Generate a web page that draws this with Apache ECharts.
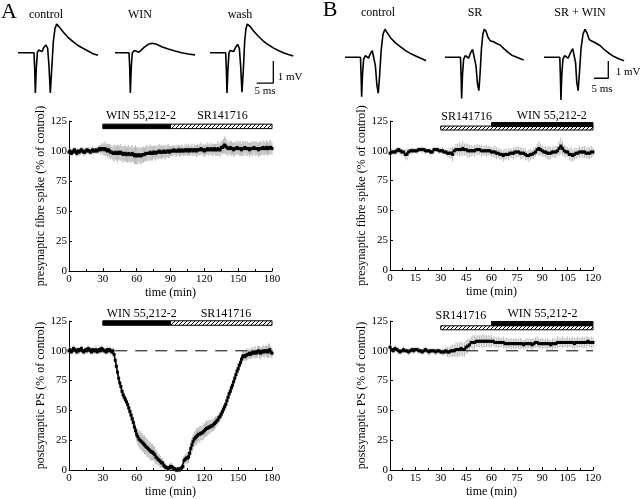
<!DOCTYPE html>
<html><head><meta charset="utf-8">
<script src="https://cdn.jsdelivr.net/npm/echarts@6/dist/echarts.min.js"></script>
<style>html,body{margin:0;padding:0;background:#fff}#c{width:640px;height:499px}</style>
</head><body><div id="c"></div>
<script>
// ---------- time-course data (1 sample / min) ----------
const preA = [
99,100,98,99,100,101,99,98,100,99,
100,101,100,99,99,100,101,100,100,99,
100,101,100,100,101,100,101,102,101,102,
102,101,102,101,100,101,100,99,99,98,
98,99,98,98,99,98,99,98,97,98,
98,97,97,98,97,97,98,97,96,97,
96,96,97,96,96,97,97,97,98,98,
98,98,99,98,98,99,99,98,99,99,
100,99,99,99,100,99,99,100,100,99,
100,100,100,101,100,100,100,101,100,100,
101,100,100,101,101,100,101,100,101,101,
100,101,101,100,101,101,101,102,101,101,
100,101,101,102,101,101,102,101,101,102,
101,101,102,101,101,103,103,104,105,104,
103,102,102,103,102,102,101,102,102,103,
102,102,102,101,102,102,103,102,102,102,
101,102,102,102,103,102,102,102,101,102,
102,102,103,102,102,103,102,102,103,103,102];
const errPreA = [
3,3,2,3,3,2,3,3,2,3,
3,3,2,3,3,3,2,3,3,2,
3,3,3,2,3,3,3,3,4,4,
5,5,6,5,6,5,6,6,5,6,
7,6,6,7,6,6,7,6,7,6,
7,6,7,7,6,7,7,6,7,8,
7,7,6,7,7,6,7,6,6,7,
6,6,7,6,6,5,6,6,5,6,
6,5,6,5,5,6,5,5,6,5,
4,4,5,4,4,5,4,4,5,4,
5,4,4,5,4,4,5,4,4,5,
4,5,4,5,5,4,5,5,4,5,
5,5,4,5,5,4,5,5,5,4,
5,5,6,5,6,5,6,6,7,7,
6,6,5,6,6,5,6,6,5,6,
5,6,6,5,6,6,5,6,6,5,
6,5,6,6,5,6,6,5,6,6,
6,5,6,6,5,6,6,5,6,6,5];
const postA = [
100,101,99,100,102,101,100,99,101,100,
101,102,100,99,100,101,100,102,101,100,
99,101,100,100,101,99,100,101,100,102,
101,100,100,99,101,100,101,100,99,100,
97,92,87,82,77,73,70,66,63,61,
59,57,55,52,49,46,43,40,36,33,
30,28,26,25,24,23,22,21,20,19,
18,17,16,15,15,14,13,11,10,9,
8,7,6,6,4,3,2,2,1,2,
3,3,2,1,1,0,0,1,0,1,
2,3,8,9,10,10,11,14,18,21,
24,26,27,28,29,30,30,31,31,32,
33,34,35,35,36,36,37,37,38,39,
40,41,42,44,45,47,49,51,53,55,
58,61,64,66,69,71,74,77,80,83,
85,88,90,93,95,96,95,96,97,97,
98,97,98,99,98,99,98,99,100,99,
98,99,100,99,100,100,99,100,101,99,98];
const errPostA = [
2,3,2,2,3,2,3,2,2,3,
2,3,2,2,3,2,3,3,2,3,
2,2,3,2,3,2,2,3,2,3,
2,2,3,2,3,2,2,3,2,3,
2,2,3,3,3,3,3,3,4,4,
3,4,4,4,4,5,5,5,5,6,
6,7,7,8,7,8,7,8,7,8,
7,7,8,7,7,6,7,6,6,5,
5,5,4,4,3,3,3,2,2,3,
3,3,2,2,2,2,2,2,2,2,
2,3,4,4,4,5,5,5,6,6,
6,6,6,7,6,6,7,6,6,7,
6,6,7,6,6,6,5,5,5,5,
5,4,4,4,4,4,4,4,4,4,
4,4,4,4,4,4,4,3,3,4,
4,4,4,4,5,4,4,4,5,4,
4,4,5,4,4,5,4,5,4,5,
5,4,5,5,4,5,5,6,5,5,4];
const preB = [
98,99,99,99,100,101,100,99,99,97,
97,99,100,100,100,100,100,101,101,101,
101,100,100,100,99,99,101,101,101,100,
100,100,99,99,98,98,98,97,100,101,
101,101,101,102,101,101,100,100,100,100,
100,101,101,101,100,100,100,100,100,100,
99,99,99,98,98,97,97,96,97,97,
97,98,98,98,99,99,99,98,98,98,
97,96,96,97,97,98,99,101,102,101,
100,99,99,98,98,98,99,99,99,100,
102,104,102,100,99,99,97,97,96,97,
98,98,99,99,99,99,98,98,98,99,99];
const errPreB = [
2,3,2,3,3,2,3,3,2,4,
5,3,2,3,2,2,3,2,2,3,
2,3,2,2,3,2,3,2,2,3,
2,3,2,3,3,4,5,6,4,5,
5,6,5,6,5,5,6,5,5,4,
5,4,5,4,5,4,4,5,4,4,
4,4,5,5,4,5,4,5,5,4,
5,4,4,5,4,5,4,5,5,4,
5,4,5,5,4,5,4,5,6,5,
5,4,5,5,6,5,4,5,5,4,
6,7,6,5,5,4,5,6,5,5,
5,4,5,4,5,5,4,5,5,5,4];
const postB = [
103,101,100,102,101,100,99,100,101,100,
100,99,100,101,100,101,101,100,100,99,
100,101,100,99,100,100,100,99,100,100,
99,99,99,100,99,99,100,100,100,101,
101,101,102,101,101,103,104,105,107,107,
107,108,108,108,108,108,108,108,108,108,
108,108,107,107,107,107,107,107,106,106,
106,106,106,106,106,106,106,106,106,105,
106,106,106,106,105,106,107,107,106,106,
106,106,106,106,106,105,106,106,106,107,
107,107,107,107,107,107,107,107,107,106,
107,107,107,107,107,107,107,108,107,107,107];
const errPostB = [
3,2,2,3,2,3,2,2,3,2,
2,3,2,2,3,2,2,3,2,2,
3,2,2,3,2,2,2,3,2,2,
2,3,3,3,4,4,5,5,5,6,
6,6,6,6,6,6,6,5,5,6,
6,5,5,5,5,6,5,5,5,5,
5,4,5,4,5,4,4,5,4,5,
4,4,5,4,5,4,4,5,4,4,
4,5,4,4,5,4,4,5,4,4,
5,4,4,5,4,4,5,4,4,5,
4,4,5,4,4,5,4,4,5,5,
4,5,4,4,5,4,5,4,4,5,4];

// drug application periods (min)
const winA = [30, 90], srA = [90, 180];
const srB = [30, 120], winB = [60, 120];
// control reference lines (min, %)
const refA = [[41, 100], [180, 100]];
const refB = [[45, 100], [120, 100]];
// axis ticks
const ticksYA = [0, 25, 50, 75, 100, 125];
const ticksXA = [0, 30, 60, 90, 120, 150, 180];
const ticksXB = [0, 15, 30, 45, 60, 75, 90, 105, 120];

// ---------- example field potentials [ms, mV] ----------
const trA_control = [[0,0],[4.8,0],[5.0,-0.7],[5.2,-1.83],[5.5,-0.7],[5.8,0],[6.2,0.12],[6.7,0.15],[7.2,0.05],[7.8,0.25],[8.4,0.35],[8.9,0.2],[9.3,-0.6],[9.7,-1.83],[10.1,-0.8],[10.6,0.5],[11.1,1.1],[11.6,1.3],[12.5,1.15],[13.5,0.95],[15,0.7],[16.5,0.5],[18,0.33],[19.5,0.2],[21,0.08],[22.5,-0.05],[24,-0.12]];
const trA_win = [[0,0],[4.2,0],[4.4,-0.6],[4.6,-1.83],[4.9,-0.6],[5.2,0],[5.8,0.1],[6.4,0.13],[7.2,0.02],[7.8,0.05],[8.8,0.25],[10,0.38],[11.1,0.43],[12.5,0.38],[14,0.27],[16,0.17],[18,0.08],[20,0.0],[22,-0.06],[24,-0.1]];
const trA_wash = [[0,0],[4.7,0],[4.9,-0.7],[5.1,-1.83],[5.4,-0.7],[5.7,0],[6.1,0.1],[6.6,0.14],[7.1,0.05],[7.7,0.25],[8.3,0.38],[8.8,0.2],[9.2,-0.6],[9.6,-1.8],[10,-0.8],[10.4,0.5],[10.8,1.1],[11.2,1.3],[12,1.2],[13,1.0],[14.5,0.75],[16,0.53],[17.5,0.36],[19,0.22],[20.5,0.1],[22,0.0],[23.5,-0.08],[25,-0.15]];
const trB_control = [[0,0],[5.4,0],[5.6,-1],[5.8,-2.28],[6.1,-1],[6.5,-0.1],[7.1,0.1],[7.6,0.13],[8.2,-0.05],[8.8,0.2],[9.5,0.38],[10.1,0.3],[10.6,-0.5],[11.1,-1.6],[11.6,-2.08],[12.0,-1.2],[12.6,0.4],[13.2,1.3],[13.9,1.62],[14.8,1.4],[16,1.1],[17.5,0.85],[19,0.65],[21,0.4],[23,0.2],[25,0.05],[27,-0.1],[28.2,-0.2]];
const trB_sr = [[0,0],[5.4,0],[5.6,-1],[5.8,-2.38],[6.1,-1],[6.5,-0.1],[7.1,0.1],[7.6,0.13],[8.2,-0.05],[8.9,0.25],[9.6,0.46],[10.2,0.35],[10.8,-0.5],[11.3,-1.5],[11.8,-1.93],[12.2,-1.0],[12.7,0.5],[13.2,1.35],[13.7,1.62],[14.3,1.5],[15,1.15],[15.8,0.95],[16.9,0.9],[18,0.8],[19.2,0.71],[20.5,0.5],[22,0.28],[23.5,0.1],[25,0],[27.4,-0.16]];
const trB_srwin = [[0,0],[5.5,0],[5.7,-1],[5.9,-2.47],[6.2,-1],[6.6,-0.1],[7.2,0.1],[7.8,0.14],[8.4,-0.05],[9.2,0.25],[10,0.5],[10.5,0.54],[11,-0.3],[11.4,-1.4],[11.9,-1.93],[12.3,-1.0],[12.9,0.5],[13.6,1.35],[14.3,1.62],[15,1.4],[15.7,1.05],[16.4,0.95],[17.2,0.9],[18.3,0.8],[19.5,0.68],[21,0.45],[22.5,0.25],[24,0.08],[26,-0.08],[27.9,-0.2]];
// scale bars: 5 ms x 1 mV
const scaleA = [[14,-1.38],[19,-1.38],[19,-0.38]];
const scaleB = [[17.4,-1.21],[22.4,-1.21],[22.4,-0.21]];

// ---------- build ----------
const FONT = "'Liberation Serif', 'Times New Roman', serif";
const hc = document.createElement('canvas'); hc.width = 4; hc.height = 4;
const g = hc.getContext('2d');
g.fillStyle = '#fff'; g.fillRect(0,0,4,4);
g.strokeStyle = '#000'; g.lineWidth = 1;
g.beginPath(); g.moveTo(0,4); g.lineTo(4,0); g.moveTo(-1,1); g.lineTo(1,-1); g.moveTo(3,5); g.lineTo(5,3); g.stroke();
const hatch = {image: hc, repeat: 'repeat'};

const grids = [
  {left:69, top:121, width:203, height:150},
  {left:390, top:121, width:203, height:149},
  {left:69, top:321, width:203, height:150},
  {left:390, top:321, width:203, height:149},
  // traces
  {left:18, top:19.7, width:83.3, height:77},
  {left:115, top:19.7, width:83.3, height:77},
  {left:210, top:19.7, width:83.3, height:77},
  {left:345, top:22.7, width:86.1, height:77.85},
  {left:445, top:22.7, width:86.1, height:77.85},
  {left:544, top:22.7, width:86.1, height:77.85}
];
const xAxes = [], yAxes = [];
function mainAxes(gi, xmax, xint, yname) {
  xAxes.push({gridIndex:gi, type:'value', min:0, max:xmax, interval:xint,
    name:'time (min)', nameLocation:'middle', nameGap:16,
    nameTextStyle:{fontFamily:FONT, fontSize:12, color:'#000'},
    axisLine:{lineStyle:{color:'#000', width:1}},
    axisTick:{inside:true, length:3, lineStyle:{color:'#000'}},
    minorTick:{show:true, splitNumber:2, length:2, lineStyle:{color:'#000'}},
    axisLabel:{fontFamily:FONT, fontSize:11, color:'#000', margin:3},
    splitLine:{show:false}});
  yAxes.push({gridIndex:gi, type:'value', min:ticksYA[0], max:ticksYA[ticksYA.length-1], interval:25,
    name:yname, nameLocation:'middle', nameGap:20, nameRotate:90,
    nameTextStyle:{fontFamily:FONT, fontSize:12, color:'#000'},
    axisLine:{show:true, lineStyle:{color:'#000', width:1}},
    axisTick:{show:true, inside:true, length:3, lineStyle:{color:'#000'}},
    axisLabel:{fontFamily:FONT, fontSize:11, color:'#000', margin:2},
    splitLine:{show:false}});
}
mainAxes(0, ticksXA[ticksXA.length-1], 30, 'presynaptic fibre spike (% of control)');
mainAxes(1, ticksXB[ticksXB.length-1], 15, 'presynaptic fibre spike (% of control)');
mainAxes(2, ticksXA[ticksXA.length-1], 30, 'postsynaptic PS (% of control)');
mainAxes(3, ticksXB[ticksXB.length-1], 15, 'postsynaptic PS (% of control)');
for (let i = 4; i <= 9; i++) {
  const isA = i < 7;
  xAxes.push({gridIndex:i, type:'value', min:0, max:isA?25:30, show:false});
  yAxes.push({gridIndex:i, type:'value', min:isA?-2:-2.5, max:isA?1.5:2, show:false});
}

const series = [];
function addTimecourse(gi, vals, errs) {
  series.push({type:'custom', xAxisIndex:gi, yAxisIndex:gi, silent:true, z:2,
    data: vals.map((v,i)=>[i, v-errs[i], v+errs[i]]),
    encode:{x:0, y:[1,2]},
    renderItem:(p, api)=>{
      const a = api.coord([api.value(0), api.value(1)]);
      const b = api.coord([api.value(0), api.value(2)]);
      return {type:'line', shape:{x1:a[0], y1:a[1], x2:b[0], y2:b[1]}, style:{stroke:'#a6a6a6', lineWidth:0.8}};
    }});
  series.push({type:'line', xAxisIndex:gi, yAxisIndex:gi, silent:true, z:3,
    data: vals.map((v,i)=>[i, v]),
    symbol:'rect', symbolSize:3, showAllSymbol:true,
    itemStyle:{color:'#000'}, lineStyle:{color:'#000', width:1.6}, animation:false});
}
addTimecourse(0, preA, errPreA);
addTimecourse(1, preB, errPreB);
addTimecourse(2, postA, errPostA);
addTimecourse(3, postB, errPostB);

function addRef(gi, pts) {
  series.push({type:'line', xAxisIndex:gi, yAxisIndex:gi, silent:true, z:4, data:pts, symbol:'none',
    lineStyle:{color:'#000', width:1, type:[12,8]}});
}
addRef(2, refA); addRef(3, refB);

function addBar(gi, range, level, h, hatched) {
  series.push({type:'custom', xAxisIndex:gi, yAxisIndex:gi, silent:true, z:5,
    data:[[range[0], range[1]]], encode:{x:[0,1]},
    renderItem:(p, api)=>{
      const a = api.coord([api.value(0), level]);
      const b = api.coord([api.value(1), level]);
      return {type:'rect', shape:{x:a[0], y:a[1]-h/2, width:b[0]-a[0], height:h},
        style:{fill: hatched ? hatch : '#000', stroke:'#000', lineWidth:1}};
    }});
}
addBar(0, winA, 120.5, 4.5, false);
addBar(0, srA, 120.5, 4.5, true);
addBar(2, winA, 123.3, 4.5, false);
addBar(2, srA, 123.3, 4.5, true);
addBar(1, srB, 119.1, 4, true);
addBar(1, winB, 122, 4, false);
addBar(3, srB, 119.3, 4, true);
addBar(3, winB, 122.9, 4, false);

const traces = [trA_control, trA_win, trA_wash, trB_control, trB_sr, trB_srwin];
traces.forEach((t, k)=>{
  series.push({type:'line', xAxisIndex:4+k, yAxisIndex:4+k, silent:true, data:t, symbol:'none',
    lineStyle:{color:'#000', width:1.6}});
});
series.push({type:'line', xAxisIndex:6, yAxisIndex:6, silent:true, data:scaleA, symbol:'none', lineStyle:{color:'#000', width:1.3}});
series.push({type:'line', xAxisIndex:9, yAxisIndex:9, silent:true, data:scaleB, symbol:'none', lineStyle:{color:'#000', width:1.3}});

function txt(x, y, s, size) {
  return {type:'text', x:x, y:y, silent:true, z:10,
    style:{text:s, fill:'#000', font:(size||12)+'px '+FONT, align:'center', verticalAlign:'middle'}};
}
const graphic = [
  txt(9, 12, 'A', 22), txt(330, 10, 'B', 22),
  txt(46, 15, 'control', 12), txt(140, 15, 'WIN', 12), txt(240, 15, 'wash', 12),
  txt(378, 13, 'control', 12), txt(475, 13, 'SR', 12), txt(580, 13, 'SR + WIN', 12),
  txt(290, 77, '1 mV', 11), txt(265, 91, '5 ms', 11),
  txt(628, 72, '1 mV', 11), txt(602, 89, '5 ms', 11),
  txt(141, 116, 'WIN 55,212-2', 12), txt(222.5, 116, 'SR141716', 12),
  txt(141.7, 314, 'WIN 55,212-2', 12), txt(226, 314, 'SR141716', 12),
  txt(466.7, 117, 'SR141716', 12), txt(551.7, 115.7, 'WIN 55,212-2', 12),
  txt(460.8, 315.7, 'SR141716', 12), txt(542.5, 314, 'WIN 55,212-2', 12)
];

const chart = echarts.init(document.getElementById('c'), null, {renderer:'canvas'});
chart.setOption({backgroundColor:'#fff', animation:false, grid:grids, xAxis:xAxes, yAxis:yAxes, series:series, graphic:graphic});
</script>
</body></html>
